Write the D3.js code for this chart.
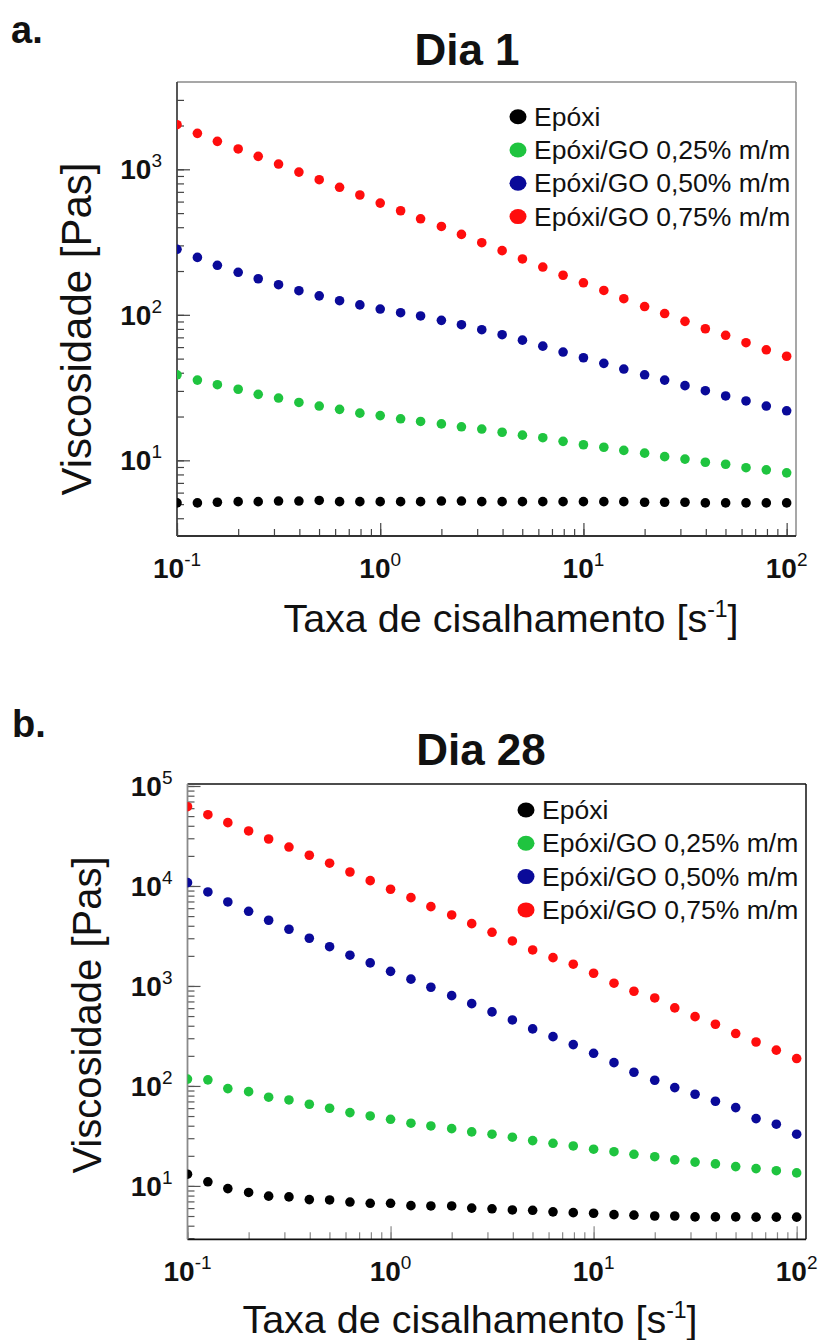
<!DOCTYPE html>
<html>
<head>
<meta charset="utf-8">
<script src="https://cdn.jsdelivr.net/npm/d3@7/dist/d3.min.js"></script>
<style>
  body { margin: 0; background: #fff; }
  svg { display: block; }
  text { font-family: "Liberation Sans", Arial, sans-serif; fill: #111; white-space: pre; }
</style>
</head>
<body>
<svg id="fig" width="823" height="1340"></svg>
<script>
// Shear rate sweep [1/s], 10 points per decade
const shearRate = [0.1, 0.126, 0.158, 0.2, 0.251, 0.316, 0.398, 0.501, 0.631, 0.794,
  1, 1.26, 1.58, 2, 2.51, 3.16, 3.98, 5.01, 6.31, 7.94,
  10, 12.6, 15.8, 20, 25.1, 31.6, 39.8, 50.1, 63.1, 79.4, 100];

const seriesNames = ["Epóxi", "Epóxi/GO 0,25% m/m", "Epóxi/GO 0,50% m/m", "Epóxi/GO 0,75% m/m"];
const seriesColors = ["#000000", "#1fc43f", "#0a0a99", "#ff0d0d"];

// Viscosity [Pa·s], day 1
const day1Epoxi = [5.1, 5.1, 5.15, 5.2, 5.2, 5.25, 5.25, 5.3, 5.2, 5.2, 5.2, 5.2, 5.2, 5.25, 5.25, 5.2,
  5.2, 5.2, 5.2, 5.2, 5.2, 5.2, 5.2, 5.15, 5.15, 5.15, 5.1, 5.1, 5.1, 5.1, 5.1];
const day1GO025 = [38.7, 35.6, 33.1, 30.8, 28.4, 26.8, 25.0, 23.6, 22.4, 21.1, 20.3, 19.3, 18.5, 17.8, 17.0, 16.4,
  15.6, 14.9, 14.3, 13.5, 12.8, 12.3, 11.7, 11.2, 10.6, 10.2, 9.7, 9.4, 8.9, 8.6, 8.2];
const day1GO050 = [282, 248, 219, 196, 177, 161, 146.5, 135, 125, 117, 109.6, 103.4, 98.2, 91.6, 85.5, 79.0,
  73.0, 67.0, 60.9, 55.5, 50.7, 46.4, 42.4, 38.7, 35.6, 32.6, 30.1, 27.7, 25.6, 23.6, 21.9];
const day1GO075 = [2026, 1766, 1556, 1380, 1228, 1087, 957, 848, 752, 666, 586, 519, 457, 405, 357, 313,
  276, 242, 213, 187, 166, 147, 129, 114, 102, 90.2, 80.2, 72.3, 64.3, 57.5, 51.9];

// Viscosity [Pa·s], day 28
const day28Epoxi = [13.1, 11.0, 9.4, 8.6, 7.9, 7.76, 7.3, 7.24, 6.9, 6.7, 6.7, 6.35, 6.3, 6.3, 6.0, 5.9,
  5.75, 5.7, 5.5, 5.4, 5.33, 5.16, 5.1, 5.0, 5.0, 4.9, 4.9, 4.9, 4.87, 4.87, 4.87];
const day28GO025 = [117, 115, 94, 87.7, 77.1, 72.4, 65.6, 59.8, 54.1, 50.1, 46.4, 42.4, 39.8, 37.4, 34.7, 32.9,
  30.7, 28.4, 26.7, 25.1, 23.3, 22.0, 20.7, 19.6, 18.2, 17.3, 16.6, 15.6, 14.9, 14.2, 13.5];
const day28GO050 = [10800, 8710, 6920, 5580, 4540, 3690, 3000, 2470, 2030, 1700, 1400, 1170, 971, 800, 665, 550,
  457, 372, 311, 259, 212, 171, 137, 114, 96.2, 82.6, 70.3, 60.7, 47.1, 41.4, 32.9];
const day28GO075 = [62100, 51600, 43000, 35500, 29500, 24500, 20300, 16900, 13800, 11300, 9270, 7640, 6210, 5130, 4200, 3440,
  2820, 2290, 1920, 1650, 1340, 1065, 885, 759, 603, 493, 414, 334, 275, 228, 188];

// Axis tick exponents (labels are 10^n)
const xTickExp = [-1, 0, 1, 2];
const yTickExpDay1 = [1, 2, 3];
const yTickExpDay28 = [1, 2, 3, 4, 5];

const titles = ["Dia 1", "Dia 28"];
const panelLetters = ["a.", "b."];
const yLabel = "Viscosidade [Pas]";
const xLabelMain = "Taxa de cisalhamento [s";
const xLabelSup = "-1";

const svg = d3.select("#fig");

function minorValues(domain) {
  const out = [];
  const lo = Math.floor(Math.log10(domain[0])), hi = Math.ceil(Math.log10(domain[1]));
  for (let e = lo; e <= hi; e++) {
    for (let m = 1; m <= 9; m++) {
      const v = m * Math.pow(10, e);
      if (v >= domain[0] && v <= domain[1]) out.push(v);
    }
  }
  return out;
}

function drawPanel(p) {
  const g = svg.append("g");
  const x = d3.scaleLog().domain(p.xDomain).range([p.left, p.right]);
  const y = d3.scaleLog().domain(p.yDomain).range([p.bottom, p.top]);

  // clip for markers
  const clipId = "clip" + p.id;
  svg.append("clipPath").attr("id", clipId).append("rect")
    .attr("x", p.left).attr("y", p.top).attr("width", p.right - p.left).attr("height", p.bottom - p.top);

  // inward ticks: minor then major
  const xMinor = d3.axisBottom(x).tickValues(minorValues(p.xDomain)).tickSize(-7).tickFormat("");
  const xMajor = d3.axisBottom(x).tickValues(xTickExp.map(e => Math.pow(10, e))).tickSize(-13).tickFormat("");
  const yMinor = d3.axisLeft(y).tickValues(minorValues(p.yDomain)).tickSize(-7).tickFormat("");
  const yMajor = d3.axisLeft(y).tickValues(p.yTickExp.map(e => Math.pow(10, e))).tickSize(-13).tickFormat("");

  [xMinor, xMajor].forEach(ax => {
    const a = g.append("g").attr("transform", `translate(0,${p.bottom})`).call(ax);
    a.select(".domain").remove();
    a.selectAll(".tick line").attr("stroke", p.xTickColor).attr("stroke-width", 1.2);
  });
  [yMinor, yMajor].forEach(ax => {
    const a = g.append("g").attr("transform", `translate(${p.left},0)`).call(ax);
    a.select(".domain").remove();
    a.selectAll(".tick line").attr("stroke", p.yTickColor).attr("stroke-width", 1.2);
  });

  // frame
  g.append("line").attr("x1", p.left).attr("x2", p.right).attr("y1", p.top).attr("y2", p.top)
    .attr("stroke", p.topColor).attr("stroke-width", 1.5);
  g.append("line").attr("x1", p.right).attr("x2", p.right).attr("y1", p.top).attr("y2", p.bottom)
    .attr("stroke", p.rightColor).attr("stroke-width", 1.5);
  g.append("line").attr("x1", p.left).attr("x2", p.right).attr("y1", p.bottom).attr("y2", p.bottom)
    .attr("stroke", p.bottomColor).attr("stroke-width", 1.8);
  g.append("line").attr("x1", p.left).attr("x2", p.left).attr("y1", p.top).attr("y2", p.bottom)
    .attr("stroke", p.leftColor).attr("stroke-width", 1.8);

  // tick labels 10^n
  xTickExp.forEach(e => {
    const t = g.append("text").attr("x", x(Math.pow(10, e))).attr("y", p.bottom + 42)
      .attr("text-anchor", "middle");
    t.append("tspan").attr("font-size", 28).attr("font-weight", "bold").text("10");
    t.append("tspan").attr("font-size", 19).attr("dy", -12).text(e);
  });
  p.yTickExp.forEach(e => {
    const t = g.append("text").attr("x", p.left - 15).attr("y", y(Math.pow(10, e)) + 10)
      .attr("text-anchor", "end");
    t.append("tspan").attr("font-size", 28).attr("font-weight", "bold").text("10");
    t.append("tspan").attr("font-size", 19).attr("dy", -12).text(e);
  });

  // markers
  const plot = g.append("g").attr("clip-path", `url(#${clipId})`);
  p.series.forEach((vals, si) => {
    plot.append("g").selectAll("circle")
      .data(vals.map((v, i) => [shearRate[i], v]))
      .join("circle")
      .attr("cx", d => x(d[0]))
      .attr("cy", d => y(d[1]))
      .attr("r", 4.8)
      .attr("fill", seriesColors[si]);
  });

  // legend
  const lg = g.append("g");
  seriesNames.forEach((name, i) => {
    const cy = p.legendY + i * p.legendStep;
    lg.append("ellipse").attr("cx", p.legendX).attr("cy", cy).attr("rx", 8.5).attr("ry", 7.5)
      .attr("fill", seriesColors[i]);
    lg.append("text").attr("x", p.legendX + 16).attr("y", cy + 9)
      .attr("font-size", 26.5).text(name);
  });

  // title, panel letter
  g.append("text").attr("x", p.titleX).attr("y", p.titleY).attr("text-anchor", "middle")
    .attr("font-size", 44).attr("font-weight", "bold").text(p.title);
  g.append("text").attr("x", p.letterX).attr("y", p.letterY)
    .attr("font-size", 38).attr("font-weight", "bold").text(p.letter);

  // axis titles
  g.append("text")
    .attr("transform", `translate(${p.yLabelX},${p.yLabelY}) rotate(-90)`)
    .attr("text-anchor", "middle").attr("font-size", p.yLabelSize).text(yLabel);
  const xl = g.append("text").attr("x", p.xLabelX).attr("y", p.xLabelY)
    .attr("text-anchor", "middle").attr("font-size", 39.5);
  xl.append("tspan").text(xLabelMain);
  xl.append("tspan").attr("font-size", 23).attr("dy", -15).text(xLabelSup);
  xl.append("tspan").attr("dy", 15).text("]");
}

drawPanel({
  id: 1, title: titles[0], letter: panelLetters[0],
  left: 177, right: 796, top: 82, bottom: 536,
  xDomain: [0.1, Math.pow(10, 2.046)], yDomain: [Math.pow(10, 0.48), Math.pow(10, 3.6)],
  yTickExp: yTickExpDay1,
  series: [day1Epoxi, day1GO025, day1GO050, day1GO075],
  topColor: "#8a8a8a", rightColor: "#8a8a8a", bottomColor: "#333", leftColor: "#444",
  xTickColor: "#444", yTickColor: "#444",
  legendX: 518, legendY: 116.7, legendStep: 33.3,
  titleX: 467, titleY: 65, letterX: 11, letterY: 43,
  yLabelX: 91, yLabelY: 329, yLabelSize: 42,
  xLabelX: 511, xLabelY: 632
});

drawPanel({
  id: 2, title: titles[1], letter: panelLetters[1],
  left: 187.5, right: 806, top: 784, bottom: 1239.3,
  xDomain: [0.1, Math.pow(10, 2.046)], yDomain: [Math.pow(10, 0.466), Math.pow(10, 5.02)],
  yTickExp: yTickExpDay28,
  series: [day28Epoxi, day28GO025, day28GO050, day28GO075],
  topColor: "#111", rightColor: "#111", bottomColor: "#111", leftColor: "#8a8a8a",
  xTickColor: "#888", yTickColor: "#555",
  legendX: 526, legendY: 810, legendStep: 33.3,
  titleX: 481, titleY: 765, letterX: 12, letterY: 737,
  yLabelX: 101, yLabelY: 1015, yLabelSize: 40,
  xLabelX: 470, xLabelY: 1333
});
</script>
</body>
</html>
